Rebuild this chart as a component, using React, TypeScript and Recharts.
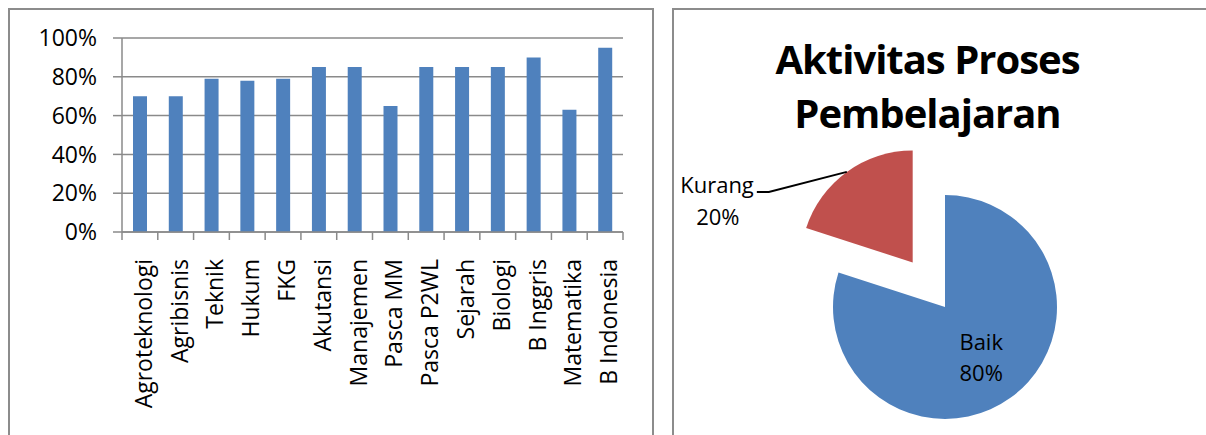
import { BarChart, Bar, XAxis, YAxis, CartesianGrid, PieChart, Pie, Cell } from 'recharts';

const categories = [
  'Agroteknologi', 'Agribisnis', 'Teknik', 'Hukum', 'FKG', 'Akutansi', 'Manajemen',
  'Pasca MM', 'Pasca P2WL', 'Sejarah', 'Biologi', 'B Inggris', 'Matematika', 'B Indonesia',
];
const scores = [0.70, 0.70, 0.79, 0.78, 0.79, 0.85, 0.85, 0.65, 0.85, 0.85, 0.85, 0.90, 0.63, 0.95];
const yTicks = [0, 0.2, 0.4, 0.6, 0.8, 1];

const pieNames = ['Baik', 'Kurang'];
const pieValues = [80, 20];
const pieColors = ['#4F81BD', '#C0504D'];

const barData = categories.map((name, i) => ({ name, value: scores[i] }));
const pieData = pieNames.map((name, i) => ({ name, value: pieValues[i] }));

const FONT = '"Open Sans", sans-serif';
const GRID = '#8a8a8a';

// bar chart geometry
const BAR_W = 660;
const BAR_H = 435;
const M = { top: 38, right: 37, bottom: 0, left: 0 };
const Y_AXIS_W = 122;
const X_AXIS_H = 203;
const HALF = (BAR_W - M.left - M.right - Y_AXIS_W) / categories.length / 2;

// pie geometry
const RAD = Math.PI / 180;
const PIE_CX = 273;
const PIE_CY = 307;
const PIE_R = 112;
const EXPLODE = 55;
const total = pieValues.reduce((a, b) => a + b, 0);
const kurangStart = 90 - (360 * pieValues[0]) / total;
const kurangMid = kurangStart - (180 * pieValues[1]) / total;
const exDx = EXPLODE * Math.cos(-kurangMid * RAD);
const exDy = EXPLODE * Math.sin(-kurangMid * RAD);

function CategoryTick(props: any) {
  const { x, y, payload, index } = props;
  const i = index ?? payload.index;
  const ty = y + 27;
  return (
    <g>
      <line x1={x - HALF} x2={x - HALF} y1={y} y2={y + 8} stroke={GRID} strokeWidth={1.5} />
      {i === categories.length - 1 && (
        <line x1={x + HALF} x2={x + HALF} y1={y} y2={y + 8} stroke={GRID} strokeWidth={1.5} />
      )}
      <text
        x={x + 3}
        y={ty}
        transform={`rotate(-90 ${x + 3} ${ty})`}
        textAnchor="end"
        dominantBaseline="central"
        fontSize={23}
        fontFamily={FONT}
        fill="#000"
      >
        {payload.value}
      </text>
    </g>
  );
}

function baikLabel(props: any) {
  const { cx, cy, midAngle, outerRadius, index } = props;
  if (index !== 0) return null;
  const px = cx + outerRadius * 0.55 * Math.cos(-midAngle * RAD);
  const py = cy + outerRadius * 0.55 * Math.sin(-midAngle * RAD);
  return (
    <g>
      <text x={px} y={py - 15.5} textAnchor="middle" dominantBaseline="central" fontSize={22} fontFamily={FONT} fill="#000">
        {pieNames[0]}
      </text>
      <text x={px} y={py + 15.5} textAnchor="middle" dominantBaseline="central" fontSize={22} fontFamily={FONT} fill="#000">
        {pieValues[0]}%
      </text>
    </g>
  );
}

function kurangLabel(props: any) {
  const { cx, cy, midAngle, outerRadius, index } = props;
  if (index !== 1) return null;
  const ax = cx + outerRadius * Math.cos(-midAngle * RAD);
  const ay = cy + outerRadius * Math.sin(-midAngle * RAD);
  const ex = ax - 78;
  const ey = ay + 20;
  const tx = ex - 12;
  return (
    <g>
      <polyline points={`${ax},${ay} ${ex},${ey} ${tx},${ey}`} fill="none" stroke="#000" strokeWidth={2} />
      <text x={tx - 3} y={ey - 8} textAnchor="end" dominantBaseline="central" fontSize={22} fontFamily={FONT} fill="#000">
        {pieNames[1]}
      </text>
      <text x={tx - 39} y={ey + 24} textAnchor="middle" dominantBaseline="central" fontSize={22} fontFamily={FONT} fill="#000">
        {pieValues[1]}%
      </text>
    </g>
  );
}

const panel: React.CSSProperties = {
  position: 'absolute',
  top: 8,
  height: 500,
  border: '2px solid #8c8c8c',
  boxSizing: 'border-box',
};

export default function App() {
  return (
    <div
      style={{
        position: 'fixed',
        left: 0,
        top: 0,
        width: 1206,
        height: 435,
        overflow: 'hidden',
        background: '#fff',
        fontFamily: FONT,
      }}
    >
      <div style={{ ...panel, left: 8, width: 646 }} />
      <div style={{ ...panel, left: 672, width: 600 }} />

      <div style={{ position: 'absolute', left: 0, top: 0 }}>
        <BarChart width={BAR_W} height={BAR_H} data={barData} margin={M}>
          <CartesianGrid vertical={false} stroke={GRID} strokeWidth={1.5} />
          <XAxis
            dataKey="name"
            interval={0}
            height={X_AXIS_H}
            tickSize={0}
            tickMargin={0}
            tickLine={false}
            axisLine={{ stroke: GRID, strokeWidth: 1.5 }}
            tick={<CategoryTick />}
          />
          <YAxis
            width={Y_AXIS_W}
            domain={[0, 1]}
            ticks={yTicks}
            tickFormatter={(v: number) => `${Math.round(v * 100)}%`}
            tickSize={9}
            tickMargin={16}
            tick={{ fontSize: 23, fill: '#000', fontFamily: FONT }}
            tickLine={{ stroke: GRID, strokeWidth: 1.5 }}
            axisLine={{ stroke: GRID, strokeWidth: 1.5 }}
          />
          <Bar dataKey="value" fill="#4F81BD" barSize={14} isAnimationActive={false} />
        </BarChart>
      </div>

      <div
        style={{
          position: 'absolute',
          left: 672,
          top: 32,
          width: 511,
          textAlign: 'center',
          fontWeight: 700,
          fontSize: 40,
          letterSpacing: -1,
          lineHeight: '54px',
          color: '#000',
        }}
      >
        Aktivitas Proses
        <br />
        Pembelajaran
      </div>

      <div style={{ position: 'absolute', left: 672, top: 0 }}>
        <PieChart width={534} height={435} margin={{ top: 0, right: 0, bottom: 0, left: 0 }}>
          <Pie
            data={pieData}
            dataKey="value"
            cx={PIE_CX}
            cy={PIE_CY}
            outerRadius={PIE_R}
            startAngle={90}
            endAngle={-270}
            label={baikLabel}
            labelLine={false}
            isAnimationActive={false}
          >
            {pieData.map((d, i) => (
              <Cell key={d.name} fill={i === 0 ? pieColors[0] : 'none'} stroke="none" />
            ))}
          </Pie>
          <Pie
            data={pieData}
            dataKey="value"
            cx={PIE_CX + exDx}
            cy={PIE_CY + exDy}
            outerRadius={PIE_R}
            startAngle={90}
            endAngle={-270}
            label={kurangLabel}
            labelLine={false}
            isAnimationActive={false}
          >
            {pieData.map((d, i) => (
              <Cell key={d.name} fill={i === 1 ? pieColors[1] : 'none'} stroke="none" />
            ))}
          </Pie>
        </PieChart>
      </div>
    </div>
  );
}
